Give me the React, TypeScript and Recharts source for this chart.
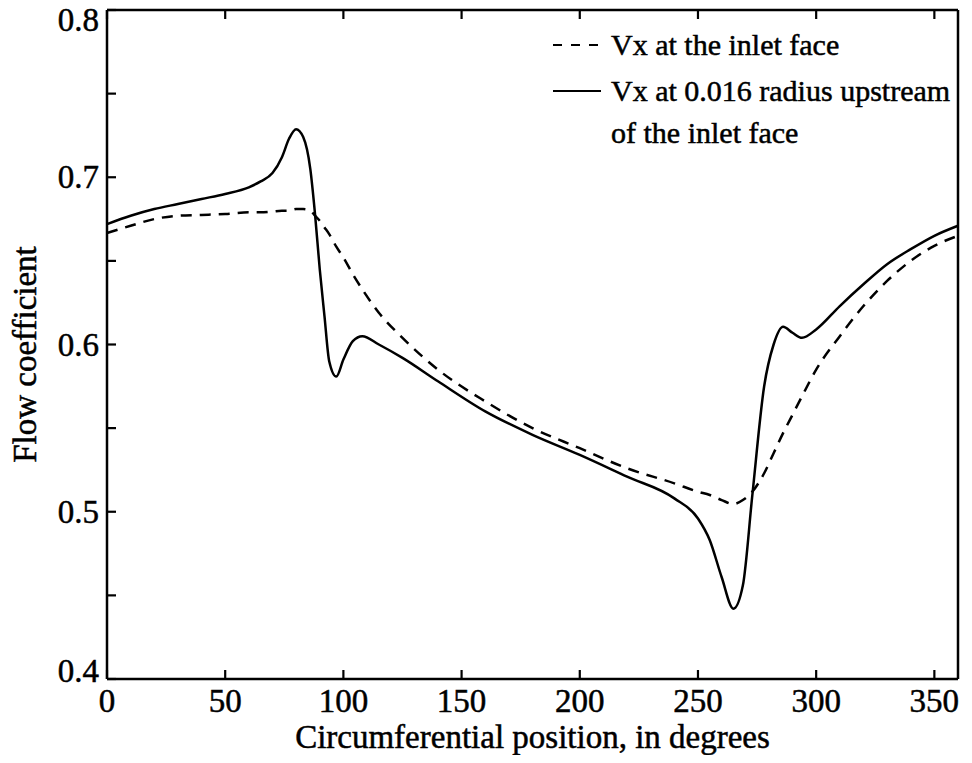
import React from "react";
import { Line, LineChart, XAxis, YAxis } from "recharts";

// circumferential position (deg), shared by both curves
const positions = [
  0, 10, 20, 30, 40, 50, 60, 65, 70, 74, 77, 80, 83, 86, 88, 90, 92, 94, 97, 100,
  104, 108, 115, 125, 140, 160, 180, 200, 220, 240, 250, 255, 260, 265, 269, 273,
  278, 282, 286, 290, 294, 300, 310, 320, 330, 340, 350, 360,
];

// Vx at 0.016 radius upstream of the inlet face (solid)
const upstream = [
  0.672, 0.677, 0.681, 0.684, 0.687, 0.69, 0.694, 0.6975, 0.7025, 0.712, 0.723, 0.7287,
  0.724, 0.705, 0.678, 0.645, 0.617, 0.59, 0.5808, 0.591, 0.602, 0.605, 0.6, 0.592,
  0.578, 0.56, 0.546, 0.534, 0.521, 0.508, 0.496, 0.483, 0.461, 0.442, 0.456, 0.51,
  0.575, 0.6, 0.6106, 0.607, 0.604, 0.609, 0.623, 0.636, 0.648, 0.657, 0.665, 0.671,
];

// Vx at the inlet face (dashed)
const inletFace = [
  0.6667, 0.671, 0.675, 0.677, 0.6775, 0.678, 0.679, 0.679, 0.6795, 0.68, 0.68, 0.681,
  0.681, 0.68, 0.677, 0.674, 0.67, 0.666, 0.6585, 0.652, 0.642, 0.633, 0.619, 0.604,
  0.585, 0.566, 0.55, 0.538, 0.526, 0.517, 0.512, 0.51, 0.507, 0.5046, 0.507, 0.512,
  0.523, 0.535, 0.547, 0.558, 0.569, 0.585, 0.605, 0.623, 0.638, 0.65, 0.659, 0.665,
];

const xTicks = [0, 50, 100, 150, 200, 250, 300, 350];
const yTicks = [0.4, 0.45, 0.5, 0.55, 0.6, 0.65, 0.7, 0.75, 0.8];

const data = positions.map((deg, i) => ({ deg, upstream: upstream[i], inlet: inletFace[i] }));

const FONT = "'Liberation Serif', 'Times New Roman', serif";
const GAP = 8;
const TICK = 9;
const INK = { fill: "#000", stroke: "#000", strokeWidth: 0.5 };

const isMajor = (v: number) => Math.abs(v * 10 - Math.round(v * 10)) < 1e-6;

const LeftTick = (props: any) => {
  const { x, y, payload, index } = props;
  const ax = x + GAP;
  const v = payload.value as number;
  const nudge = index === 0 ? -8 : index === yTicks.length - 1 ? 10 : 0;
  return (
    <g>
      <line x1={ax} x2={ax + TICK} y1={y} y2={y} stroke="#000" strokeWidth={2.2} />
      {isMajor(v) && (
        <text x={x} y={y + nudge} dy={11} textAnchor="end" fontSize={33} fontFamily={FONT} {...INK}>
          {v.toFixed(1)}
        </text>
      )}
    </g>
  );
};

const RightTick = (props: any) => {
  const { x, y } = props;
  const ax = x - GAP;
  return <line x1={ax - TICK} x2={ax} y1={y} y2={y} stroke="#000" strokeWidth={2.2} />;
};

const BottomTick = (props: any) => {
  const { x, y, payload } = props;
  const ay = y - GAP;
  return (
    <g>
      <line x1={x} x2={x} y1={ay - TICK} y2={ay} stroke="#000" strokeWidth={2.2} />
      <text x={x} y={ay + 33} textAnchor="middle" fontSize={33} fontFamily={FONT} {...INK}>
        {payload.value}
      </text>
    </g>
  );
};

const TopTick = (props: any) => {
  const { x, y } = props;
  const ay = y + GAP;
  return <line x1={x} x2={x} y1={ay} y2={ay + TICK} stroke="#000" strokeWidth={2.2} />;
};

const LegendBox = () => (
  <div
    style={{
      position: "absolute", top: 14, left: 545, width: 420,
      fontFamily: FONT, fontSize: 30, color: "#000", lineHeight: "46px",
      WebkitTextStroke: "0.5px #000",
    }}
  >
    <div style={{ display: "flex", alignItems: "center" }}>
      <svg width={58} height={10}>
        <line x1={0} x2={48} y1={5} y2={5} stroke="#000" strokeWidth={2.2} strokeDasharray="9 9" />
      </svg>
      <span>Vx at the inlet face</span>
    </div>
    <div style={{ display: "flex", alignItems: "center" }}>
      <svg width={58} height={10}>
        <line x1={0} x2={48} y1={5} y2={5} stroke="#000" strokeWidth={2.2} />
      </svg>
      <span>Vx at 0.016 radius upstream</span>
    </div>
    <div style={{ paddingLeft: 58, marginTop: -4 }}>of the inlet face</div>
  </div>
);

const XLabel = (props: any) => {
  const { viewBox } = props;
  return (
    <text x={viewBox.x + viewBox.width / 2} y={viewBox.y + 69} textAnchor="middle" fontSize={33} fontFamily={FONT} {...INK}>
      Circumferential position, in degrees
    </text>
  );
};

const YLabel = (props: any) => {
  const { viewBox } = props;
  const cx = viewBox.x + 28;
  const cy = viewBox.y + viewBox.height / 2 + 10;
  return (
    <text x={cx} y={cy} transform={`rotate(-90 ${cx} ${cy})`} textAnchor="middle" fontSize={33} fontFamily={FONT} {...INK}>
      Flow coefficient
    </text>
  );
};

export default function App() {
  return (
    <div style={{ width: 956, height: 747, position: "relative" }}>
      <style>{".recharts-surface, .recharts-wrapper { overflow: visible !important; }"}</style>
      <LineChart width={956} height={747} data={data} margin={{ top: 1, right: 5, bottom: 0, left: 0 }}>
        <XAxis
          xAxisId="b"
          dataKey="deg"
          type="number"
          domain={[0, 360]}
          ticks={xTicks}
          interval={0}
          height={76}
          tickSize={0}
          tickMargin={GAP}
          tickLine={false}
          axisLine={{ stroke: "#000", strokeWidth: 2.5 }}
          tick={<BottomTick />}
          label={<XLabel />}
        />
        <XAxis
          xAxisId="t"
          orientation="top"
          dataKey="deg"
          type="number"
          domain={[0, 360]}
          ticks={xTicks}
          interval={0}
          height={1}
          tickSize={0}
          tickMargin={GAP}
          tickLine={false}
          axisLine={{ stroke: "#000", strokeWidth: 2.5 }}
          tick={<TopTick />}
        />
        <YAxis
          yAxisId="l"
          type="number"
          domain={[0.4, 0.8]}
          ticks={yTicks}
          interval={0}
          width={99}
          tickSize={0}
          tickMargin={GAP}
          tickLine={false}
          axisLine={{ stroke: "#000", strokeWidth: 2.5 }}
          tick={<LeftTick />}
          label={<YLabel />}
        />
        <YAxis
          yAxisId="r"
          orientation="right"
          type="number"
          domain={[0.4, 0.8]}
          ticks={yTicks}
          interval={0}
          width={1}
          tickSize={0}
          tickMargin={GAP}
          tickLine={false}
          axisLine={{ stroke: "#000", strokeWidth: 2.5 }}
          tick={<RightTick />}
        />
        <Line
          xAxisId="b"
          yAxisId="l"
          name="Vx at the inlet face"
          dataKey="inlet"
          type="monotone"
          stroke="#000"
          strokeWidth={2.5}
          strokeDasharray="11 8"
          dot={false}
          isAnimationActive={false}
        />
        <Line
          xAxisId="b"
          yAxisId="l"
          name="Vx at 0.016 radius upstream of the inlet face"
          dataKey="upstream"
          type="monotone"
          stroke="#000"
          strokeWidth={2.5}
          dot={false}
          isAnimationActive={false}
        />
      </LineChart>
      <LegendBox />
    </div>
  );
}
